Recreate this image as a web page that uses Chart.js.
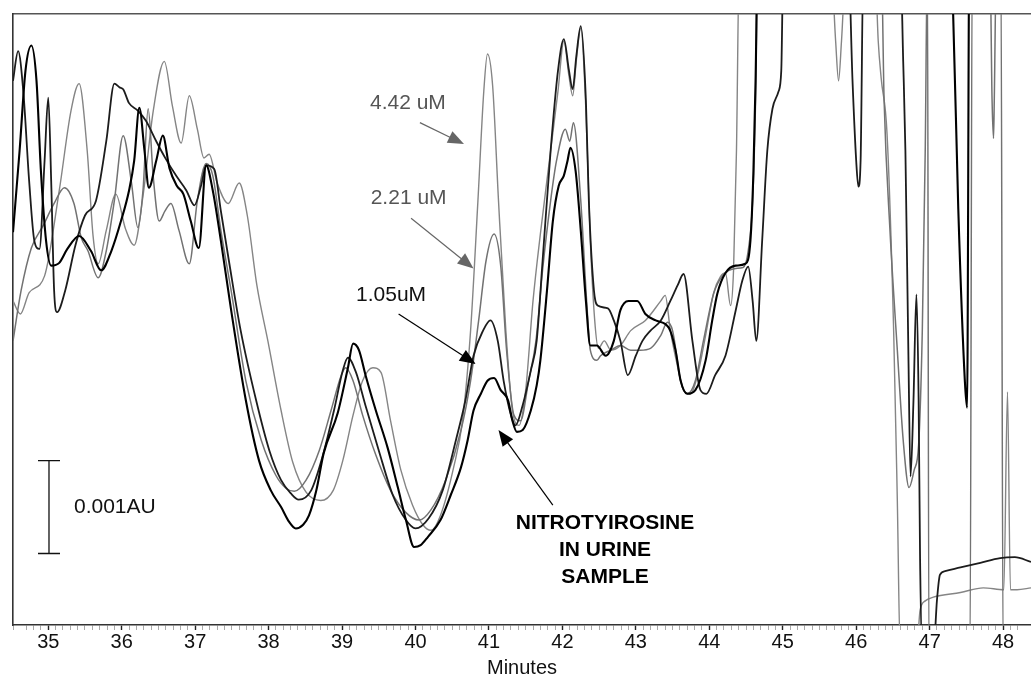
<!DOCTYPE html>
<html>
<head>
<meta charset="utf-8">
<script src="https://cdn.jsdelivr.net/npm/chart.js@4.4.1/dist/chart.umd.min.js"></script>
<style>html,body{margin:0;padding:0;background:#fff}canvas{display:block}</style>
</head>
<body>
<canvas id="c" width="1031" height="676"></canvas>
<script>
// ---- Data (time in minutes, absorbance in units of 0.0001 AU) ----
const majorTicks = [35,36,37,38,39,40,41,42,43,44,45,46,47,48];

const time_442 = [34.52,34.62,34.74,34.95,35.15,35.31,35.42,35.53,35.61,35.68,35.79,35.92,36.05,36.17,36.29,36.43,36.58,36.69,36.81,36.92,37.03,37.12,37.19,37.30,37.45,37.60,37.71,37.84,37.99,38.17,38.33,38.51,38.71,38.88,39.01,39.15,39.28,39.42,39.53,39.66,39.80,39.96,40.10,40.21,40.34,40.52,40.64,40.75,40.85,40.93,40.98,41.05,41.13,41.23,41.32,41.41,41.50,41.60,41.70,41.84,41.94,42.02,42.09,42.14,42.19,42.25,42.32,42.38,42.44,42.49,42.57,42.66,42.79,42.93,43.13,43.34,43.40,43.47,43.55,43.65,43.74,43.84,43.95,44.06,44.15,44.22,44.29,44.33,44.37,44.41,45.65,45.72,45.76,45.80,45.87,46.25,46.30,46.34,46.42,46.51,46.56,46.60,46.82,46.87,46.94,47.05,47.42,47.73,48.01,48.06,48.10,48.19,48.38];
const abs_442 = [34.9,33.5,35.8,37.6,46.8,55.4,58.3,51.1,41.9,38.9,42.5,46.4,42.7,40.9,46.2,55.4,60.7,55.9,51.9,57.0,53.4,50.3,50.7,47.6,45.4,47.6,44.1,36.6,30.6,23.1,17.5,14.3,13.4,14.5,17.7,22.6,26.3,27.7,27.2,22.0,16.7,12.9,10.8,10.2,11.8,17.0,22.0,31.7,45.7,57.5,61.5,58.1,45.7,31.7,23.1,21.5,25.3,34.9,42.1,51.1,57.5,62.9,59.1,57.0,60.8,64.3,55.4,41.4,32.8,29.8,30.6,29.6,30.1,31.7,32.8,34.9,35.5,31.7,28.5,25.3,24.9,26.9,31.2,35.8,37.5,37.9,34.4,38.2,51.1,72,72,62.9,58.6,62.9,72,72,62.9,58.9,52.9,31.7,13.4,-3,-3,1.6,2.6,3.0,3.5,4.0,3.8,25.1,3.8,3.8,4.0];

const time_221 = [34.52,34.63,34.77,34.93,35.08,35.22,35.35,35.45,35.54,35.68,35.79,35.90,36.02,36.13,36.22,36.29,36.36,36.43,36.51,36.59,36.67,36.78,36.92,37.03,37.15,37.24,37.35,37.49,37.69,37.90,38.10,38.24,38.35,38.51,38.69,38.85,38.99,39.05,39.15,39.28,39.46,39.66,39.87,40.05,40.21,40.41,40.62,40.75,40.86,40.96,41.07,41.16,41.24,41.34,41.43,41.54,41.64,41.73,41.84,41.92,42.04,42.10,42.15,42.25,42.33,42.38,42.47,42.52,42.66,42.79,42.93,43.06,43.20,43.34,43.43,43.50,43.61,43.70,43.81,43.92,44.06,44.18,44.36,44.46,44.53,44.59,44.63,44.66,46.34,46.38,46.46,46.56,46.64,46.72,46.79,46.85,46.90,46.94,46.97,46.99,47.55,47.58,47.82,47.85,47.87,47.88,47.91,47.97,48.00,48.38];
const abs_221 = [30.6,36.0,40.6,43.0,45.4,47.1,45.4,41.7,40.3,37.4,40.3,45.7,52.7,47.8,42.8,46.8,55.6,48.2,43.5,44.6,45.4,42.5,38.9,45.7,49.7,48.4,42.5,36.0,26.3,19.9,16.1,14.7,14.4,15.6,18.8,23.1,26.9,27.7,26.3,22.6,18.3,14.5,12.1,11.3,12.4,15.6,21.0,26.3,32.8,39.2,42.1,38.7,29.6,22.6,22.0,26.3,30.6,38.2,45.7,50.0,53.4,52.1,54.1,45.7,34.9,29.6,28.5,29.0,29.6,30.1,29.6,29.6,29.8,31.2,32.6,31.7,26.3,24.9,26.3,30.6,35.7,37.6,38.4,38.5,40.3,45.7,56.5,72,72,56.5,42.5,29.6,19.9,14.8,16.7,19.4,31.7,51.1,72,-3,-3,72,72,56.5,52.4,56.5,72,72,-3,-3];

const time_105 = [34.52,34.59,34.66,34.74,34.81,34.88,34.95,35.00,35.04,35.08,35.12,35.23,35.37,35.50,35.65,35.79,35.90,35.97,36.02,36.10,36.22,36.33,36.47,36.60,36.74,36.88,36.99,37.08,37.15,37.26,37.35,37.46,37.62,37.83,38.01,38.17,38.30,38.41,38.58,38.74,38.89,39.01,39.08,39.19,39.32,39.50,39.69,39.87,40.00,40.18,40.37,40.55,40.68,40.79,40.92,41.02,41.12,41.20,41.30,41.36,41.46,41.57,41.65,41.73,41.84,41.94,42.02,42.09,42.14,42.19,42.25,42.32,42.36,42.43,42.48,42.62,42.70,42.79,42.89,43.00,43.09,43.20,43.34,43.47,43.57,43.65,43.77,43.88,43.96,44.08,44.22,44.36,44.45,44.53,44.59,44.64,44.72,44.79,44.86,44.94,44.98,45.01,45.89,45.95,46.00,46.03,46.06,46.10,46.60,46.64,46.67,46.71,46.74,46.78,46.82,46.85,46.87,46.90,47.05,47.10,47.14,47.21,47.42,47.69,47.96,48.16,48.38];
const abs_105 = [58.6,61.8,57.5,47.8,41.4,40.5,50.0,56.8,47.8,36.0,33.7,36.0,40.9,44.1,45.7,52.1,58.3,57.9,57.7,56.2,55.4,54.3,52.1,50.2,48.4,46.8,45.2,47.3,49.5,49.1,44.6,39.2,31.7,24.2,18.8,15.6,14.2,13.5,14.5,18.3,23.1,27.4,28.8,27.2,23.6,18.8,14.0,11.3,10.4,11.5,14.5,19.9,24.2,29.0,31.7,32.8,30.6,26.3,22.6,21.5,23.7,27.4,30.6,39.2,51.1,59.7,63.1,59.7,57.7,61.3,64.5,56.5,45.7,36.0,34.4,34.1,32.8,30.6,26.9,29.0,30.6,31.7,32.8,34.9,36.6,37.8,30.6,25.3,24.9,26.9,29.0,33.9,37.1,38.6,34.9,30.6,41.4,51.1,55.6,57.4,59.7,72,72,58.6,50.0,47.2,50.0,72,72,60.7,51.1,29.6,16.0,24.2,35.6,24.2,7.0,-3,-3,2.7,5.4,5.8,6.2,6.7,7.2,7.3,6.8];

const time_urine = [34.52,34.61,34.69,34.77,34.84,34.90,34.97,35.04,35.15,35.26,35.42,35.58,35.72,35.86,35.99,36.10,36.17,36.24,36.31,36.37,36.47,36.56,36.65,36.75,36.84,36.94,37.05,37.15,37.24,37.35,37.49,37.69,37.87,38.03,38.17,38.28,38.37,38.47,38.55,38.65,38.75,38.94,39.08,39.15,39.23,39.32,39.46,39.62,39.76,39.87,39.98,40.07,40.17,40.34,40.48,40.62,40.71,40.79,40.89,40.98,41.07,41.16,41.26,41.32,41.38,41.46,41.57,41.65,41.70,41.79,41.87,41.95,42.02,42.07,42.11,42.18,42.25,42.32,42.38,42.47,42.59,42.70,42.79,42.90,43.02,43.13,43.27,43.45,43.54,43.61,43.70,43.81,43.95,44.04,44.11,44.22,44.36,44.49,44.56,44.60,44.63,44.66,47.28,47.32,47.39,47.48,47.51,47.54,48.38];
const abs_urine = [42.3,51.1,59.7,62.4,58.6,48.9,41.4,38.7,39.0,40.5,41.9,40.3,38.2,40.3,43.5,46.8,50.0,55.7,51.1,47.1,50.0,52.7,49.2,47.3,46.4,43.5,40.6,49.5,46.8,41.4,33.9,24.2,17.7,14.5,12.7,11.1,10.4,10.8,11.8,14.5,18.5,22.8,27.7,30.3,29.6,26.9,23.1,19.1,14.8,11.3,8.4,8.6,9.5,11.3,14.0,17.0,19.9,23.1,24.9,26.3,26.6,25.3,24.2,22.0,20.8,21.0,23.1,25.8,28.5,36.0,43.5,47.3,48.4,50.0,51.4,48.9,42.5,34.9,30.1,30.1,29.0,30.6,33.9,34.9,34.9,33.5,32.8,32.0,29.6,26.3,24.9,25.3,28.5,32.8,35.7,37.9,38.7,38.9,41.4,48.6,58.6,72,72,65.8,44.8,26.2,23.4,72,72];

// ---- Annotations (data coordinates) ----
const scaleBar = { time: 35.01, from: 7.7, to: 17.7, label: '0.001AU', labelTime: 35.35 };
const textNotes = [
  { lines: ['4.42 uM'], time: 39.38, value: 56.2, color: '#555', bold: false, align: 'left' },
  { lines: ['2.21 uM'], time: 39.39, value: 46.0, color: '#555', bold: false, align: 'left' },
  { lines: ['1.05uM'], time: 39.19, value: 35.5, color: '#111', bold: false, align: 'left' },
  { lines: ['NITROTYIROSINE', 'IN URINE', 'SAMPLE'], time: 42.58, value: 11.0, color: '#000', bold: true, align: 'center', step: 2.9 }
];
const arrows = [
  { from: [40.06, 54.1], to: [40.66, 51.8], color: '#666' },
  { from: [39.94, 43.8], to: [40.79, 38.4], color: '#666' },
  { from: [39.77, 33.5], to: [40.82, 28.1], color: '#000' },
  { from: [41.87, 12.9], to: [41.13, 21.0], color: '#000' }
];

const FONT = '"Liberation Sans", Arial, Helvetica, sans-serif';
const xMin = 34.52, xMax = 48.38, yMin = 0, yMax = 65.8;

function pts(ts, vs) { return ts.map((t, i) => ({ x: t, y: vs[i] })); }
function isMajor(v) { const r = Math.round(v); return Math.abs(v - r) < 1e-6 && majorTicks.includes(r); }

const annotPlugin = {
  id: 'annot',
  afterDatasetsDraw(chart) {
    const ctx = chart.ctx, xs = chart.scales.x, ys = chart.scales.y;
    const X = t => xs.getPixelForValue(t), Y = v => ys.getPixelForValue(v);
    ctx.save();
    // scale bar
    const bx = X(scaleBar.time), by1 = Y(scaleBar.from), by2 = Y(scaleBar.to);
    ctx.strokeStyle = '#111'; ctx.lineWidth = 1.3;
    ctx.beginPath();
    ctx.moveTo(bx, by1); ctx.lineTo(bx, by2);
    ctx.moveTo(bx - 11, by1); ctx.lineTo(bx + 11, by1);
    ctx.moveTo(bx - 11, by2); ctx.lineTo(bx + 11, by2);
    ctx.stroke();
    ctx.fillStyle = '#111'; ctx.font = '21px ' + FONT; ctx.textBaseline = 'middle'; ctx.textAlign = 'left';
    ctx.fillText(scaleBar.label, X(scaleBar.labelTime), (by1 + by2) / 2);
    // arrows
    arrows.forEach(a => {
      const x1 = X(a.from[0]), y1 = Y(a.from[1]), x2 = X(a.to[0]), y2 = Y(a.to[1]);
      const ang = Math.atan2(y2 - y1, x2 - x1), L = 16, W = 6.5;
      ctx.strokeStyle = a.color; ctx.fillStyle = a.color; ctx.lineWidth = 1.2;
      ctx.beginPath(); ctx.moveTo(x1, y1); ctx.lineTo(x2 - L * 0.8 * Math.cos(ang), y2 - L * 0.8 * Math.sin(ang)); ctx.stroke();
      ctx.beginPath();
      ctx.moveTo(x2, y2);
      ctx.lineTo(x2 - L * Math.cos(ang) + W * Math.sin(ang), y2 - L * Math.sin(ang) - W * Math.cos(ang));
      ctx.lineTo(x2 - L * Math.cos(ang) - W * Math.sin(ang), y2 - L * Math.sin(ang) + W * Math.cos(ang));
      ctx.closePath(); ctx.fill();
    });
    // texts
    textNotes.forEach(n => {
      ctx.fillStyle = n.color;
      ctx.font = (n.bold ? 'bold 21px ' : '21px ') + FONT;
      ctx.textAlign = n.align; ctx.textBaseline = 'middle';
      n.lines.forEach((ln, i) => ctx.fillText(ln, X(n.time), Y(n.value - i * (n.step || 0))));
    });
    ctx.restore();
  }
};

new Chart(document.getElementById('c'), {
  type: 'line',
  data: {
    datasets: [
      { label: 'Urine sample', data: pts(time_urine, abs_urine), borderColor: '#000', borderWidth: 2.1 },
      { label: '1.05 uM', data: pts(time_105, abs_105), borderColor: '#1c1c1c', borderWidth: 1.8 },
      { label: '2.21 uM', data: pts(time_221, abs_221), borderColor: '#727272', borderWidth: 1.5 },
      { label: '4.42 uM', data: pts(time_442, abs_442), borderColor: '#858585', borderWidth: 1.4 }
    ]
  },
  options: {
    responsive: false,
    animation: false,
    parsing: true,
    datasets: { line: { pointRadius: 0, fill: false, cubicInterpolationMode: 'monotone' } },
    layout: { padding: { top: 6, left: 5, right: 0, bottom: 0 } },
    plugins: { legend: { display: false }, tooltip: { enabled: false } },
    scales: {
      x: {
        type: 'linear', position: 'bottom', min: xMin, max: xMax,
        ticks: {
          stepSize: 0.1, autoSkip: false, maxRotation: 0, minRotation: 0, padding: 0,
          color: '#111', font: { family: FONT, size: 20 },
          callback: v => isMajor(v) ? String(Math.round(v)) : ''
        },
        grid: {
          drawOnChartArea: false, drawTicks: true, tickLength: 5,
          tickColor: c => (c.tick && isMajor(c.tick.value)) ? '#222' : '#aaa',
          tickWidth: c => (c.tick && isMajor(c.tick.value)) ? 1.4 : 1
        },
        border: { display: true, color: '#333', width: 1.6 },
        title: { display: true, text: 'Minutes', color: '#111', font: { family: FONT, size: 20, lineHeight: 0.8 }, padding: { top: 6, bottom: 0 } }
      },
      xTop: {
        type: 'linear', position: 'top', min: xMin, max: xMax,
        ticks: { display: false }, grid: { display: false },
        border: { display: true, color: '#555', width: 1.5 }
      },
      y: {
        type: 'linear', min: yMin, max: yMax,
        ticks: { display: false }, grid: { display: false },
        border: { display: true, color: '#333', width: 1.6 }
      }
    }
  },
  plugins: [annotPlugin]
});
</script>
</body>
</html>
